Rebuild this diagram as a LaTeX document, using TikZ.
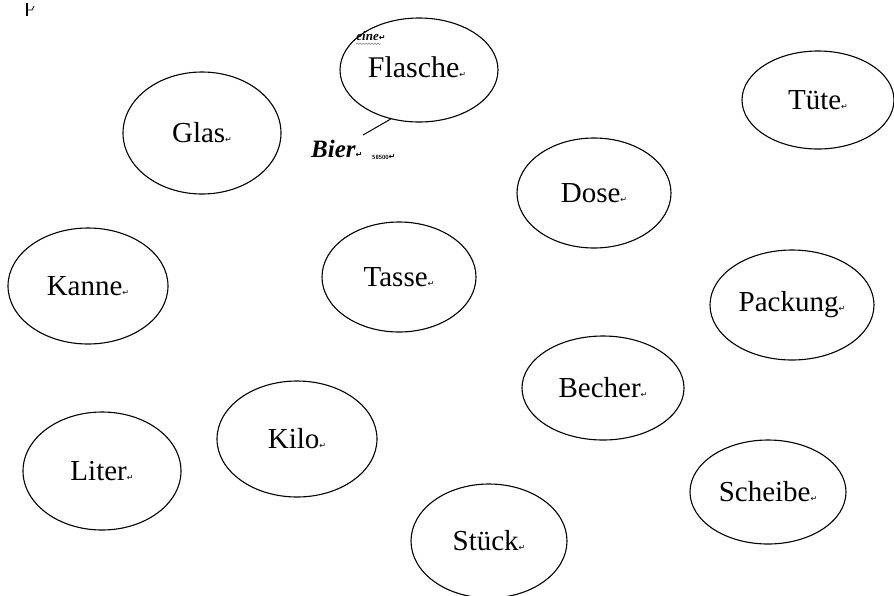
\documentclass[tikz,border=0pt]{standalone}
\usepackage{fontspec}
\setmainfont{Liberation Serif}
\newfontfamily\symfont{DejaVu Sans}
\usetikzlibrary{shapes.geometric,decorations.pathmorphing}
\begin{document}
\begin{tikzpicture}[x=1pt,y=-1pt,
  word/.style={draw=black, line width=1.1pt, ellipse, inner sep=0pt, font=\fontsize{29}{29}\selectfont}]
\useasboundingbox (0,0) rectangle (894,595);
\newcommand{\rt}{{\symfont\fontsize{8}{8}\selectfont ↵}}
% ellipses
\node[word, minimum width=158pt, minimum height=104pt] (flasche) at (419,70) {};
\node[word, minimum width=158pt, minimum height=122pt] (glas)    at (202,133) {Glas\rt};
\node[word, minimum width=152pt, minimum height=98pt]  (tuete)   at (818,100) {Tüte\rt};
\node[word, minimum width=154pt, minimum height=110pt] (dose)    at (594,193) {Dose\rt};
\node[word, minimum width=160pt, minimum height=116pt] (kanne)   at (88,286)  {Kanne\rt};
\node[word, minimum width=154pt, minimum height=110pt] (tasse)   at (399,277) {Tasse\rt};
\node[word, minimum width=164pt, minimum height=110pt] (packung) at (792,305) {Packung\rt};
\node[word, minimum width=162pt, minimum height=104pt] (becher)  at (603,388) {Becher\rt};
\node[word, minimum width=160pt, minimum height=116pt] (kilo)    at (297,439) {Kilo\rt};
\node[word, minimum width=158pt, minimum height=118pt] (liter)   at (102,471) {Liter\rt};
\node[word, minimum width=156pt, minimum height=114pt] (stueck)  at (489,541) {Stück\rt};
\node[word, minimum width=156pt, minimum height=104pt] (scheibe) at (768,492) {Scheibe\rt};
% Flasche text
\node[font=\fontsize{30}{30}\selectfont, inner sep=0pt] (flaschetext) at (417,67) {Flasche\rt};
\node[font=\itshape\bfseries\fontsize{13}{13}\selectfont, inner sep=0pt] (eine) at (371,36) {eine\rt};
\draw[gray, line width=0.5pt, decorate, decoration={snake, amplitude=0.8pt, segment length=3pt}]
  ([yshift=-3pt]eine.south west) -- ([yshift=-3pt,xshift=-5pt]eine.south east);
% Bier annotation
\node[font=\itshape\bfseries\fontsize{25}{25}\selectfont, inner sep=0pt, anchor=west] (bier) at (311,149) {Bier\rt};
\node[font=\sffamily\bfseries\fontsize{6}{6}\selectfont, inner sep=0pt, anchor=west] (num) at (372,157) {58500\rt};
\coordinate (bierend) at (363,135);
\draw[line width=1pt] (flasche.240) -- (bierend);
% top-left mark
\draw[line width=1.2pt] (27,3) -- (27,16);
\draw[line width=0.8pt] (27,10) -- (32,10) -- (34,6);
\end{tikzpicture}
\end{document}
